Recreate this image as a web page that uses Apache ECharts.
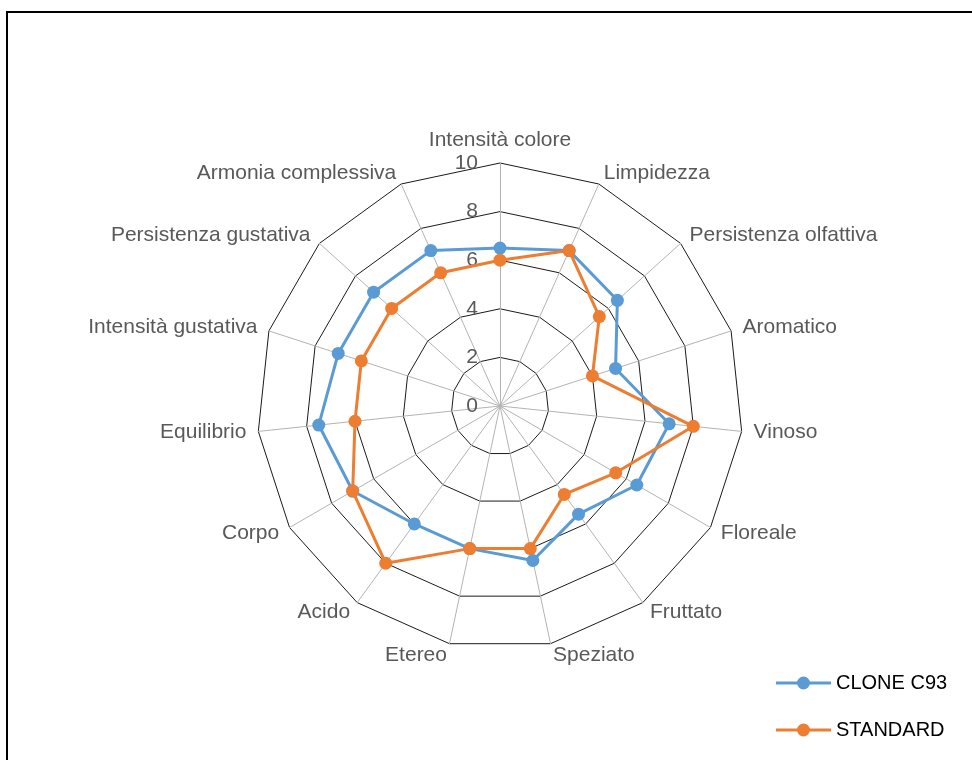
<!DOCTYPE html>
<html>
<head>
<meta charset="utf-8">
<script src="https://cdn.jsdelivr.net/npm/echarts@6/dist/echarts.min.js"></script>
<style>
  html, body { margin: 0; padding: 0; background: #fff; }
  #chart { width: 972px; height: 760px; }
</style>
</head>
<body>
<div id="chart"></div>
<script>
// attributes, clockwise from the top
const attributes = [
  'Intensità colore', 'Limpidezza', 'Persistenza olfattiva', 'Aromatico', 'Vinoso',
  'Floreale', 'Fruttato', 'Speziato', 'Etereo', 'Acido',
  'Corpo', 'Equilibrio', 'Intensità gustativa', 'Persistenza gustativa', 'Armonia complessiva'
]
const cloneC93 = [6.5, 7.0, 6.5, 5.0, 7.0, 6.5, 5.5, 6.5, 6.0, 6.0, 7.0, 7.5, 7.0, 7.0, 7.0]
const standard = [6.0, 7.0, 5.5, 4.0, 8.0, 5.5, 4.5, 6.0, 6.0, 8.0, 7.0, 6.0, 6.0, 6.0, 6.0]
const seriesNames = ['CLONE C93', 'STANDARD']
const seriesColors = ['#5B9BD5', '#ED7D31']
const axisMax = 10

// echarts lays radar axes out counter-clockwise, so keep the first one and flip the rest
const flip = (arr) => [arr[0]].concat(arr.slice(1).reverse())

const font = 'Liberation Sans'
const chart = echarts.init(document.getElementById('chart'))

const legendIcon = 'path://M0,5 H55 V8 H0 Z M21,6.5 A6.5,6.5 0 1,1 34,6.5 A6.5,6.5 0 1,1 21,6.5 Z'

chart.setOption({
  animation: false,
  textStyle: { fontFamily: font },
  graphic: [{
    type: 'rect',
    shape: { x: 7, y: 12, width: 1000, height: 800 },
    style: { fill: 'none', stroke: '#000', lineWidth: 2 },
    silent: true
  }],
  legend: {
    orient: 'vertical',
    left: 776,
    top: 673,
    padding: 0,
    itemWidth: 55,
    itemHeight: 13,
    itemGap: 27,
    icon: legendIcon,
    textStyle: { fontSize: 20, color: '#000', fontFamily: font },
    data: seriesNames
  },
  radar: {
    center: [500, 406],
    radius: 243,
    shape: 'polygon',
    splitNumber: 5,
    startAngle: 90,
    indicator: flip(attributes).map((name, i) => ({
      name: name,
      min: 0,
      max: axisMax,
      axisLabel: i === 0 ? { show: true } : undefined
    })),
    axisName: { color: '#595959', fontSize: 21, fontFamily: font },
    nameGap: 12,
    axisLine: { lineStyle: { color: '#b3b3b3', width: 1 } },
    splitLine: { lineStyle: { color: '#1a1a1a', width: 1 } },
    splitArea: { show: false },
    axisTick: { show: false },
    axisLabel: { show: false, color: '#595959', fontSize: 21, margin: 22, fontFamily: font }
  },
  series: [{
    type: 'radar',
    symbol: 'circle',
    symbolSize: 13,
    data: [cloneC93, standard].map((vals, k) => ({
      name: seriesNames[k],
      value: flip(vals),
      lineStyle: { color: seriesColors[k], width: 3 },
      itemStyle: { color: seriesColors[k] }
    }))
  }]
})
</script>
</body>
</html>
